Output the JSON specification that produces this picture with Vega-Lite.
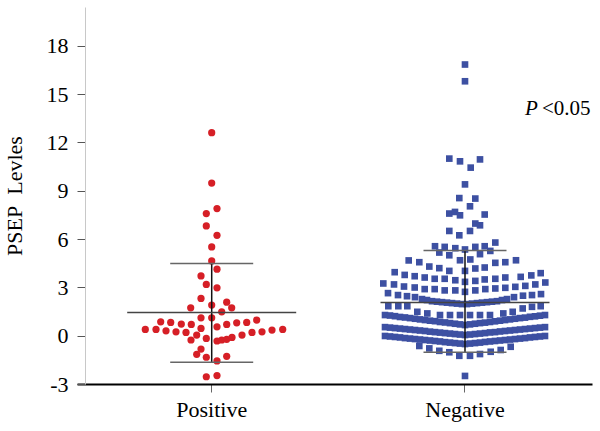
{
  "$schema": "https://vega.github.io/schema/vega-lite/v6.json",
  "width": 515,
  "height": 377,
  "autosize": "none",
  "padding": {"left": 77, "top": 7, "right": 8, "bottom": 47},
  "background": "white",
  "config": {
    "view": {"stroke": null},
    "font": "Liberation Serif",
    "axis": {"grid": false, "labelFont": "Liberation Serif", "titleFont": "Liberation Serif", "labelColor": "#000", "titleColor": "#000"}
  },
  "datasets": {
    "pts": [
      {"g":"Positive","s":0,"v":12.6},{"g":"Positive","s":0,"v":9.47},{"g":"Positive","s":0.53,"v":7.89},{"g":"Positive","s":-0.54,"v":7.58},
      {"g":"Positive","s":-0.54,"v":6.81},{"g":"Positive","s":0.53,"v":6.23},{"g":"Positive","s":0,"v":5.51},{"g":"Positive","s":0,"v":4.64},
      {"g":"Positive","s":0.53,"v":4.13},{"g":"Positive","s":-1.07,"v":3.71},{"g":"Positive","s":-0.54,"v":3.18},{"g":"Positive","s":0.53,"v":2.97},
      {"g":"Positive","s":-1.07,"v":2.31},{"g":"Positive","s":1.5,"v":2.08},{"g":"Positive","s":0,"v":1.9},{"g":"Positive","s":-2.1,"v":1.73},
      {"g":"Positive","s":2.0,"v":1.73},{"g":"Positive","s":1.0,"v":1.48},{"g":"Positive","s":-1.07,"v":1.11},{"g":"Positive","s":0,"v":1.11},
      {"g":"Positive","s":-5.1,"v":0.86},{"g":"Positive","s":-4.1,"v":0.82},{"g":"Positive","s":-3.04,"v":0.72},{"g":"Positive","s":-2.04,"v":0.7},
      {"g":"Positive","s":1.5,"v":0.7},{"g":"Positive","s":2.5,"v":0.8},{"g":"Positive","s":3.5,"v":0.82},{"g":"Positive","s":4.5,"v":0.97},
      {"g":"Positive","s":0.53,"v":0.55},{"g":"Positive","s":-1.07,"v":0.45},{"g":"Positive","s":-6.64,"v":0.39},{"g":"Positive","s":-5.57,"v":0.39},
      {"g":"Positive","s":-4.57,"v":0.3},{"g":"Positive","s":-3.57,"v":0.24},{"g":"Positive","s":-2.57,"v":0.2},{"g":"Positive","s":-1.5,"v":0.04},
      {"g":"Positive","s":-0.54,"v":-0.17},{"g":"Positive","s":-2.07,"v":-0.27},{"g":"Positive","s":0.53,"v":-0.33},{"g":"Positive","s":1.0,"v":-0.27},
      {"g":"Positive","s":1.5,"v":-0.23},{"g":"Positive","s":2.03,"v":-0.11},{"g":"Positive","s":3.03,"v":0.04},{"g":"Positive","s":4.03,"v":0.2},
      {"g":"Positive","s":5.03,"v":0.24},{"g":"Positive","s":6.03,"v":0.35},{"g":"Positive","s":7.1,"v":0.39},{"g":"Positive","s":-1.07,"v":-0.83},
      {"g":"Positive","s":-1.5,"v":-1.16},{"g":"Positive","s":-0.54,"v":-1.34},{"g":"Positive","s":1.5,"v":-1.28},{"g":"Positive","s":0.53,"v":-1.57},
      {"g":"Positive","s":-0.54,"v":-2.55},{"g":"Positive","s":0.53,"v":-2.48},

      {"g":"Negative","s":0,"v":16.83},{"g":"Negative","s":0,"v":15.79},{"g":"Negative","s":-1.57,"v":10.99},{"g":"Negative","s":-0.5,"v":10.82},
      {"g":"Negative","s":1.5,"v":10.94},{"g":"Negative","s":0.57,"v":10.43},{"g":"Negative","s":0,"v":9.39},{"g":"Negative","s":-0.57,"v":8.54},
      {"g":"Negative","s":1.03,"v":8.51},{"g":"Negative","s":0.5,"v":8.03},{"g":"Negative","s":-1.57,"v":7.58},{"g":"Negative","s":-1.0,"v":7.68},
      {"g":"Negative","s":-0.5,"v":7.47},{"g":"Negative","s":1.97,"v":7.52},{"g":"Negative","s":1.03,"v":6.96},{"g":"Negative","s":1.5,"v":6.85},
      {"g":"Negative","s":-1.57,"v":6.5},{"g":"Negative","s":0.5,"v":6.5},{"g":"Negative","s":-0.57,"v":6.23},
      {"g":"Negative","s":-3,"v":5.55},{"g":"Negative","s":-2.03,"v":5.51},{"g":"Negative","s":-0.97,"v":5.43},{"g":"Negative","s":0,"v":5.35},
      {"g":"Negative","s":1.03,"v":5.51},{"g":"Negative","s":1.97,"v":5.55},{"g":"Negative","s":3.03,"v":5.78},
      {"g":"Negative","s":-2.57,"v":5.16},{"g":"Negative","s":-1.57,"v":4.99},{"g":"Negative","s":1.5,"v":5.06},{"g":"Negative","s":2.53,"v":5.26},
      {"g":"Negative","s":-0.5,"v":4.68},{"g":"Negative","s":0.53,"v":4.73},{"g":"Negative","s":-5.63,"v":4.67},{"g":"Negative","s":-4.57,"v":4.56},
      {"g":"Negative","s":3.03,"v":4.52},{"g":"Negative","s":4.03,"v":4.56},{"g":"Negative","s":5.1,"v":4.68},
      {"g":"Negative","s":-3.57,"v":4.29},{"g":"Negative","s":-2.57,"v":4.19},{"g":"Negative","s":-1.57,"v":4.02},{"g":"Negative","s":0,"v":4.02},
      {"g":"Negative","s":1.03,"v":4.17},{"g":"Negative","s":1.97,"v":4.23},
      {"g":"Negative","s":-7.03,"v":3.94},{"g":"Negative","s":-6.03,"v":3.77},{"g":"Negative","s":-5.03,"v":3.69},{"g":"Negative","s":-4.03,"v":3.61},
      {"g":"Negative","s":-3.03,"v":3.53},{"g":"Negative","s":-2.03,"v":3.53},{"g":"Negative","s":-0.97,"v":3.44},{"g":"Negative","s":0,"v":3.34},
      {"g":"Negative","s":1.03,"v":3.4},{"g":"Negative","s":1.97,"v":3.49},{"g":"Negative","s":3.03,"v":3.53},{"g":"Negative","s":4.03,"v":3.61},
      {"g":"Negative","s":5.57,"v":3.65},{"g":"Negative","s":6.63,"v":3.74},{"g":"Negative","s":7.57,"v":3.88},
      {"g":"Negative","s":-8.17,"v":3.24},{"g":"Negative","s":-7.1,"v":3.18},{"g":"Negative","s":-6.1,"v":3.05},{"g":"Negative","s":-5.03,"v":2.99},
      {"g":"Negative","s":-4.03,"v":2.89},{"g":"Negative","s":-3.03,"v":2.89},{"g":"Negative","s":-2.03,"v":2.81},{"g":"Negative","s":-0.97,"v":2.81},
      {"g":"Negative","s":0,"v":2.72},{"g":"Negative","s":1.03,"v":2.81},{"g":"Negative","s":2.03,"v":2.89},{"g":"Negative","s":3.03,"v":2.93},
      {"g":"Negative","s":4.03,"v":2.97},{"g":"Negative","s":5.03,"v":3.03},{"g":"Negative","s":6.03,"v":3.09},{"g":"Negative","s":7.03,"v":3.18},
      {"g":"Negative","s":8.03,"v":3.3},
      {"g":"Negative","s":-7.7,"v":2.64},{"g":"Negative","s":-6.7,"v":2.52},{"g":"Negative","s":-5.8,"v":2.45},{"g":"Negative","s":-5.0,"v":2.39},
      {"g":"Negative","s":-4.3,"v":2.27},{"g":"Negative","s":-3.8,"v":2.21},{"g":"Negative","s":-3.3,"v":2.14},{"g":"Negative","s":-2.8,"v":2.11},
      {"g":"Negative","s":-2.3,"v":2.08},{"g":"Negative","s":-1.8,"v":2.05},{"g":"Negative","s":-1.3,"v":2.02},{"g":"Negative","s":-0.8,"v":1.99},
      {"g":"Negative","s":-0.3,"v":1.96},{"g":"Negative","s":0.2,"v":1.96},{"g":"Negative","s":0.7,"v":1.99},{"g":"Negative","s":1.2,"v":2.02},
      {"g":"Negative","s":1.7,"v":2.05},{"g":"Negative","s":2.2,"v":2.08},{"g":"Negative","s":2.7,"v":2.11},{"g":"Negative","s":3.2,"v":2.14},
      {"g":"Negative","s":3.7,"v":2.21},{"g":"Negative","s":4.2,"v":2.27},{"g":"Negative","s":4.9,"v":2.39},{"g":"Negative","s":5.8,"v":2.48},
      {"g":"Negative","s":6.7,"v":2.52},{"g":"Negative","s":7.6,"v":2.58},
      {"g":"Negative","s":-7.67,"v":1.83},{"g":"Negative","s":-6.67,"v":1.83},{"g":"Negative","s":-5.77,"v":1.83},{"g":"Negative","s":-4.77,"v":1.48},
      {"g":"Negative","s":-3.77,"v":1.38},{"g":"Negative","s":-2.5,"v":1.28},{"g":"Negative","s":-1.5,"v":1.28},{"g":"Negative","s":-0.5,"v":1.28},
      {"g":"Negative","s":0.5,"v":1.28},{"g":"Negative","s":1.5,"v":1.28},{"g":"Negative","s":2.5,"v":1.28},{"g":"Negative","s":3.83,"v":1.38},
      {"g":"Negative","s":4.77,"v":1.48},{"g":"Negative","s":5.77,"v":1.69},{"g":"Negative","s":6.7,"v":1.79},{"g":"Negative","s":7.57,"v":1.83},

      {"g":"Negative","s":-8,"v":1.28},{"g":"Negative","s":-7.5,"v":1.25},{"g":"Negative","s":-7,"v":1.21},{"g":"Negative","s":-6.5,"v":1.16},
      {"g":"Negative","s":-6,"v":1.13},{"g":"Negative","s":-5.5,"v":1.09},{"g":"Negative","s":-5,"v":1.05},{"g":"Negative","s":-4.5,"v":1.01},
      {"g":"Negative","s":-4,"v":0.97},{"g":"Negative","s":-3.5,"v":0.93},{"g":"Negative","s":-3,"v":0.9},{"g":"Negative","s":-2.5,"v":0.85},
      {"g":"Negative","s":-2,"v":0.82},{"g":"Negative","s":-1.5,"v":0.78},{"g":"Negative","s":-1,"v":0.74},{"g":"Negative","s":-0.5,"v":0.7},
      {"g":"Negative","s":0,"v":0.66},{"g":"Negative","s":0.5,"v":0.7},{"g":"Negative","s":1,"v":0.74},{"g":"Negative","s":1.5,"v":0.78},
      {"g":"Negative","s":2,"v":0.81},{"g":"Negative","s":2.5,"v":0.85},{"g":"Negative","s":3,"v":0.89},{"g":"Negative","s":3.5,"v":0.93},
      {"g":"Negative","s":4,"v":0.97},{"g":"Negative","s":4.5,"v":1.01},{"g":"Negative","s":5,"v":1.05},{"g":"Negative","s":5.5,"v":1.09},
      {"g":"Negative","s":6,"v":1.12},{"g":"Negative","s":6.5,"v":1.17},{"g":"Negative","s":7,"v":1.2},{"g":"Negative","s":7.5,"v":1.24},
      {"g":"Negative","s":8,"v":1.28},

      {"g":"Negative","s":-8,"v":0.53},{"g":"Negative","s":-7.5,"v":0.5},{"g":"Negative","s":-7,"v":0.47},{"g":"Negative","s":-6.5,"v":0.44},
      {"g":"Negative","s":-6,"v":0.41},{"g":"Negative","s":-5.5,"v":0.38},{"g":"Negative","s":-5,"v":0.35},{"g":"Negative","s":-4.5,"v":0.32},
      {"g":"Negative","s":-4,"v":0.29},{"g":"Negative","s":-3.5,"v":0.25},{"g":"Negative","s":-3,"v":0.22},{"g":"Negative","s":-2.5,"v":0.19},
      {"g":"Negative","s":-2,"v":0.16},{"g":"Negative","s":-1.5,"v":0.13},{"g":"Negative","s":-1,"v":0.1},{"g":"Negative","s":-0.5,"v":0.07},
      {"g":"Negative","s":0,"v":0.04},{"g":"Negative","s":0.5,"v":0.07},{"g":"Negative","s":1,"v":0.1},{"g":"Negative","s":1.5,"v":0.13},
      {"g":"Negative","s":2,"v":0.16},{"g":"Negative","s":2.5,"v":0.2},{"g":"Negative","s":3,"v":0.22},{"g":"Negative","s":3.5,"v":0.26},
      {"g":"Negative","s":4,"v":0.29},{"g":"Negative","s":4.5,"v":0.32},{"g":"Negative","s":5,"v":0.35},{"g":"Negative","s":5.5,"v":0.38},
      {"g":"Negative","s":6,"v":0.41},{"g":"Negative","s":6.5,"v":0.44},{"g":"Negative","s":7,"v":0.47},{"g":"Negative","s":7.5,"v":0.5},
      {"g":"Negative","s":8,"v":0.53},

      {"g":"Negative","s":-8,"v":-0.02},{"g":"Negative","s":-7.5,"v":-0.05},{"g":"Negative","s":-7,"v":-0.08},{"g":"Negative","s":-6.5,"v":-0.11},
      {"g":"Negative","s":-6,"v":-0.15},{"g":"Negative","s":-5.5,"v":-0.18},{"g":"Negative","s":-5,"v":-0.21},{"g":"Negative","s":-4.5,"v":-0.24},
      {"g":"Negative","s":-4,"v":-0.27},{"g":"Negative","s":-3.5,"v":-0.3},{"g":"Negative","s":-3,"v":-0.33},{"g":"Negative","s":-2.5,"v":-0.36},
      {"g":"Negative","s":-2,"v":-0.4},{"g":"Negative","s":-1.5,"v":-0.43},{"g":"Negative","s":-1,"v":-0.46},{"g":"Negative","s":-0.5,"v":-0.49},
      {"g":"Negative","s":0,"v":-0.52},{"g":"Negative","s":0.5,"v":-0.49},{"g":"Negative","s":1,"v":-0.46},{"g":"Negative","s":1.5,"v":-0.43},
      {"g":"Negative","s":2,"v":-0.39},{"g":"Negative","s":2.5,"v":-0.36},{"g":"Negative","s":3,"v":-0.33},{"g":"Negative","s":3.5,"v":-0.3},
      {"g":"Negative","s":4,"v":-0.27},{"g":"Negative","s":4.5,"v":-0.24},{"g":"Negative","s":5,"v":-0.21},{"g":"Negative","s":5.5,"v":-0.18},
      {"g":"Negative","s":6,"v":-0.15},{"g":"Negative","s":6.5,"v":-0.11},{"g":"Negative","s":7,"v":-0.08},{"g":"Negative","s":7.5,"v":-0.05},
      {"g":"Negative","s":8,"v":-0.02},

      {"g":"Negative","s":-4.57,"v":-0.64},{"g":"Negative","s":-3.57,"v":-0.79},{"g":"Negative","s":-2.57,"v":-0.94},{"g":"Negative","s":-1.57,"v":-1.03},
      {"g":"Negative","s":-0.57,"v":-1.25},{"g":"Negative","s":0.5,"v":-1.25},{"g":"Negative","s":1.5,"v":-1.14},{"g":"Negative","s":2.57,"v":-1.0},
      {"g":"Negative","s":3.57,"v":-0.89},{"g":"Negative","s":4.57,"v":-0.69},{"g":"Negative","s":0,"v":-2.5}
    ],
    "stats": [
      {"g":"Positive","mean":1.44,"lo":-1.65,"hi":4.48},
      {"g":"Negative","mean":2.06,"lo":-1.03,"hi":5.28}
    ]
  },
  "encoding": {
    "x": {
      "field": "g", "type": "nominal",
      "scale": {"type": "band", "domain": ["Positive", "Negative"], "paddingInner": 0, "paddingOuter": 0.0166, "align": 0.958, "round": false},
      "axis": {"title": null, "labelAngle": 0, "labelFontSize": 22, "labelPadding": 7, "tickSize": 8, "tickColor": "#666", "tickWidth": 1, "domainColor": "#000", "domainWidth": 2, "ticks": true}
    }
  },
  "layer": [
    {
      "data": {"name": "pts"},
      "mark": {"type": "point", "filled": true, "opacity": 1},
      "encoding": {
        "xOffset": {"field": "s", "type": "quantitative", "scale": {"domain": [-12.665, 12.665], "zero": false, "nice": false}},
        "y": {
          "field": "v", "type": "quantitative",
          "scale": {"domain": [-3, 20.4], "nice": false, "zero": false},
          "axis": {"title": "PSEP\u00a0 Levles", "titleFontSize": 22, "titleFontWeight": "normal", "titlePadding": 20, "values": [-3, 0, 3, 6, 9, 12, 15, 18], "labelExpr": "'' + datum.value", "labelFontSize": 22, "labelPadding": 9, "tickSize": 8, "tickColor": "#555", "domainColor": "#c8c8c8", "offset": -8}
        },
        "color": {"field": "g", "type": "nominal", "scale": {"domain": ["Positive", "Negative"], "range": ["#d61f26", "#3d50a2"]}, "legend": null},
        "shape": {"field": "g", "type": "nominal", "scale": {"domain": ["Positive", "Negative"], "range": ["circle", "square"]}, "legend": null},
        "size": {"field": "g", "type": "nominal", "scale": {"domain": ["Positive", "Negative"], "range": [52, 44]}, "legend": null}
      }
    },
    {
      "data": {"name": "stats"},
      "mark": {"type": "rule", "color": "#111", "strokeWidth": 1.5},
      "encoding": {"y": {"field": "lo", "type": "quantitative"}, "y2": {"field": "hi"}}
    },
    {
      "data": {"name": "stats"},
      "mark": {"type": "tick", "orient": "horizontal", "size": 169, "thickness": 1.5, "color": "#444", "opacity": 1},
      "encoding": {"y": {"field": "mean", "type": "quantitative"}}
    },
    {
      "data": {"name": "stats"},
      "mark": {"type": "tick", "orient": "horizontal", "size": 83, "thickness": 1.5, "color": "#666", "opacity": 1},
      "encoding": {"y": {"field": "hi", "type": "quantitative"}}
    },
    {
      "data": {"name": "stats"},
      "mark": {"type": "tick", "orient": "horizontal", "size": 83, "thickness": 1.5, "color": "#666", "opacity": 1},
      "encoding": {"y": {"field": "lo", "type": "quantitative"}}
    },
    {
      "data": {"values": [{"t": "P"}]},
      "mark": {"type": "text", "font": "Liberation Serif", "fontSize": 21, "fontStyle": "italic", "align": "left", "baseline": "middle", "dx": 60, "color": "#000"},
      "encoding": {"x": {"datum": "Negative"}, "y": {"datum": 14.1}, "text": {"field": "t"}}
    },
    {
      "data": {"values": [{"t": "<0.05"}]},
      "mark": {"type": "text", "font": "Liberation Serif", "fontSize": 21, "align": "left", "baseline": "middle", "dx": 77, "color": "#000"},
      "encoding": {"x": {"datum": "Negative"}, "y": {"datum": 14.1}, "text": {"field": "t"}}
    }
  ]
}
